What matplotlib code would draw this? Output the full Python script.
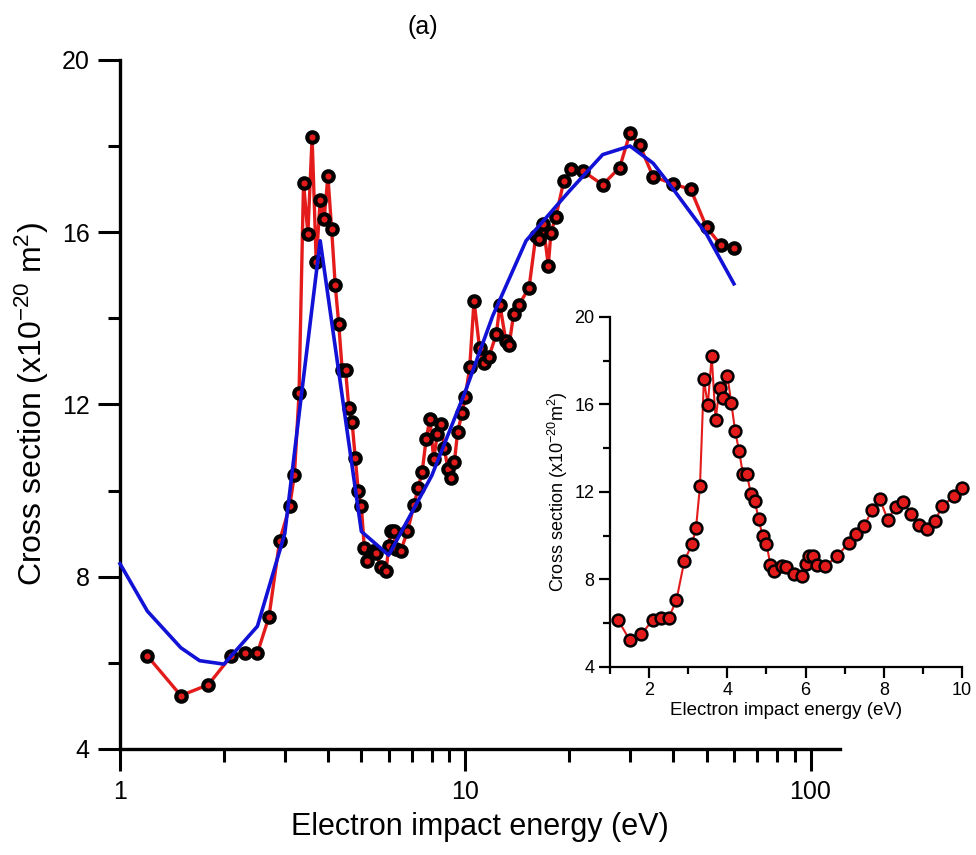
import matplotlib.pyplot as plt
import numpy as np
from matplotlib.ticker import FixedLocator, NullFormatter

plt.rcParams['font.family'] = ['Liberation Sans', 'DejaVu Sans']
plt.rcParams['mathtext.fontset'] = 'custom'
plt.rcParams['mathtext.rm'] = 'Liberation Sans'
plt.rcParams['mathtext.default'] = 'regular'

# measured cross sections (eV, 1e-20 m^2)
energy = [1.2, 1.5, 1.8, 2.1, 2.3, 2.5, 2.7, 2.9,
          3.1, 3.2, 3.3, 3.4, 3.5, 3.6, 3.7, 3.8, 3.9, 4.0, 4.1, 4.2, 4.3,
          4.4, 4.5, 4.6, 4.7, 4.8, 4.9, 5.0, 5.1, 5.2,
          5.4, 5.5, 5.7, 5.9, 6.0, 6.1, 6.2, 6.3, 6.5, 6.8,
          7.1, 7.3, 7.5, 7.7, 7.9, 8.1, 8.3, 8.5, 8.7, 8.9,
          9.1, 9.3, 9.5, 9.8, 10.0, 10.3, 10.6, 11.0, 11.3, 11.7,
          12.3, 12.6, 13.1, 13.4, 13.8, 14.3, 15.3, 16.0, 16.4, 16.8,
          17.4, 17.7, 18.3, 19.3, 20.3, 21.9,
          25, 28, 30, 32, 35, 40, 45, 50, 55, 60]
sigma = [6.16, 5.24, 5.49, 6.16, 6.23, 6.23, 7.07, 8.84,
         9.63, 10.37, 12.26, 17.15, 15.96, 18.2, 15.3, 16.75, 16.3, 17.3, 16.08, 14.77, 13.87,
         12.8, 12.8, 11.92, 11.59, 10.76, 9.98, 9.63, 8.67, 8.37,
         8.6, 8.55, 8.23, 8.14, 8.72, 9.07, 9.05, 8.64, 8.6, 9.05,
         9.66, 10.06, 10.43, 11.19, 11.66, 10.73, 11.31, 11.54, 10.98, 10.5,
         10.29, 10.66, 11.36, 11.81, 12.18, 12.86, 14.41, 13.3, 12.95, 13.1,
         13.63, 14.31, 13.48, 13.38, 14.09, 14.31, 14.71, 15.9, 15.84, 16.2,
         15.22, 15.99, 16.36, 17.19, 17.46, 17.42,
         17.1, 17.5, 18.3, 18.02, 17.29, 17.12, 16.99, 16.11, 15.7, 15.62]

# calculated curve
calc_energy = [1.0, 1.2, 1.5, 1.7, 2.0, 2.5, 3.0, 3.35, 3.8, 5.0, 6.0, 8.0,
               10.0, 12.0, 15.0, 20.0, 25.0, 30.0, 35.0, 40.0, 50.0, 60.0]
calc_sigma = [8.3, 7.2, 6.35, 6.05, 5.97, 6.85, 9.0, 12.2, 15.8, 9.05, 8.5, 10.35,
              12.3, 14.05, 15.8, 16.95, 17.8, 18.0, 17.6, 17.0, 15.95, 14.8]

red = '#e31b1b'
blue = '#1212d6'

fig = plt.figure(figsize=(9.76, 8.55), dpi=100)
ax = fig.add_axes([0.123, 0.124, 0.738, 0.806])

ax.plot(energy, sigma, color=red, lw=2.4, marker='o', ms=7.5, mfc=red,
        mec='black', mew=3, zorder=3, clip_on=False)
ax.plot(calc_energy, calc_sigma, color=blue, lw=2.6, zorder=4, clip_on=False)

ax.set_xscale('log')
ax.set_xlim(1, 122)
ax.set_ylim(4, 20)
ax.xaxis.set_major_locator(FixedLocator([1, 10, 100]))
ax.set_xticklabels(['1', '10', '100'])
minors = [m * d for d in (1, 10) for m in range(2, 10)]
ax.xaxis.set_minor_locator(FixedLocator(minors))
ax.xaxis.set_minor_formatter(NullFormatter())
ax.set_yticks([4, 8, 12, 16, 20])
ax.yaxis.set_minor_locator(FixedLocator([6, 10, 14, 18]))

for s in ('top', 'right'):
    ax.spines[s].set_visible(False)
for s in ('left', 'bottom'):
    ax.spines[s].set_linewidth(2.4)
ax.tick_params(which='major', direction='out', length=16, width=2.2, labelsize=18, pad=6)
ax.tick_params(which='minor', direction='out', length=9, width=2.2)

ax.set_xlabel('Electron impact energy (eV)', fontsize=22, labelpad=6)
ax.set_ylabel('Cross section (x10$^{-20}$ m$^{2}$)', fontsize=23, labelpad=8)
fig.text(0.433, 0.968, '(a)', fontsize=18, ha='center', va='center')

# inset: low-energy region
ins = fig.add_axes([0.625, 0.22, 0.3607, 0.4094])
low = [i for i, e in enumerate(energy) if e <= 10]
ins.plot([energy[i] for i in low], [sigma[i] for i in low], color=red, lw=1.5,
         marker='o', ms=8.5, mfc=red, mec='black', mew=1.8, zorder=3, clip_on=False)
ins.set_xlim(1, 10)
ins.set_ylim(4, 20)
ins.set_xticks([2, 4, 6, 8, 10])
ins.xaxis.set_minor_locator(FixedLocator([1, 3, 5, 7, 9]))
ins.set_yticks([4, 8, 12, 16, 20])
ins.yaxis.set_minor_locator(FixedLocator([6, 10, 14, 18]))
for s in ('top', 'right'):
    ins.spines[s].set_visible(False)
for s in ('left', 'bottom'):
    ins.spines[s].set_linewidth(1.6)
ins.tick_params(which='major', direction='out', length=8, width=1.6, labelsize=13, pad=3)
ins.tick_params(which='minor', direction='out', length=5, width=1.6)
ins.set_xlabel('Electron impact energy (eV)', fontsize=13.5, labelpad=2)
ins.set_ylabel('Cross section (x10$^{-20}$m$^{2}$)', fontsize=13, labelpad=3)

fig.savefig('out.png', dpi=100)
